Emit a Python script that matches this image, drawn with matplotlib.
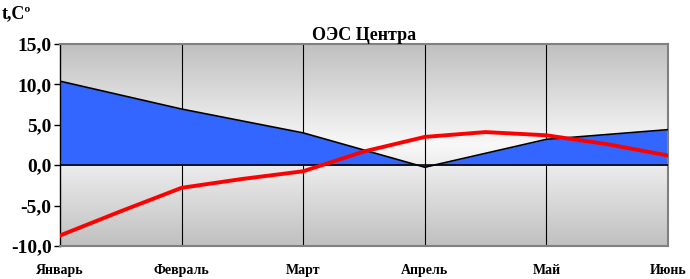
import numpy as np
from matplotlib import pyplot as plt
from matplotlib.colors import LinearSegmentedColormap

months = ['Январь', 'Февраль', 'Март', 'Апрель', 'Май', 'Июнь']
# blue area series, one value per month
area_values = [10.4, 6.95, 4.0, -0.25, 3.2, 4.4]
# red line, read every half month
line_pos = [0, 0.5, 1, 1.5, 2, 2.5, 3, 3.5, 4, 4.5, 5]
line_values = [-8.7, -5.7, -2.8, -1.7, -0.75, 1.7, 3.5, 4.1, 3.7, 2.6, 1.2]
y_ticks = [-10, -5, 0, 5, 10, 15]

plt.rcParams['font.family'] = ['Liberation Serif', 'DejaVu Serif']
plt.rcParams['font.weight'] = 'bold'

fig = plt.figure(figsize=(6.9, 2.79), dpi=100)
ax = fig.add_axes([60 / 690, 1 - 246 / 279, 608 / 690, 202 / 279])

x = np.arange(len(months))
ax.set_xlim(0, len(months) - 1)
ax.set_ylim(-10, 15)

# gray gradient background, lightest in the middle
grad = np.abs(np.linspace(-1, 1, 200)).reshape(-1, 1)
cmap = LinearSegmentedColormap.from_list('bg', ['#f8f8f8', '#c0c0c0'])
ax.imshow(grad, aspect='auto', cmap=cmap, extent=[0, 5, -10, 15],
          zorder=0, origin='lower', vmin=0, vmax=1)

for xi in x[1:-1]:
    ax.axvline(xi, color='black', lw=0.8, zorder=1)

ax.fill_between(x, area_values, 0, color='#3366ff', zorder=2, lw=0)
ax.plot(x, area_values, color='black', lw=1.2, zorder=3)
ax.axhline(0, color='black', lw=1.2, zorder=3)
ax.plot(line_pos, line_values, color='#ff0000', lw=2.8, zorder=4,
        solid_joinstyle='round')

ax.set_yticks(y_ticks)
ax.set_yticklabels([f'{v:.1f}'.replace('.', ',') for v in y_ticks],
                   fontsize=14, fontweight='bold')
ax.set_xticks(x)
ax.set_xticklabels(months, fontsize=10, fontweight='bold')
ax.tick_params(axis='x', length=0, pad=13)
ax.tick_params(axis='y', direction='out', length=4, width=1, pad=2)

for side in ['top', 'right', 'bottom']:
    ax.spines[side].set_color('#808080')
    ax.spines[side].set_linewidth(1.5)
ax.spines['left'].set_color('black')
ax.spines['left'].set_linewidth(1)

ax.set_title('ОЭС Центра', fontsize=13, fontweight='bold', pad=3)
fig.text(0.003, 0.935, 't,Cº', fontsize=13, fontweight='bold', ha='left')

fig.savefig('out.png', dpi=100)
